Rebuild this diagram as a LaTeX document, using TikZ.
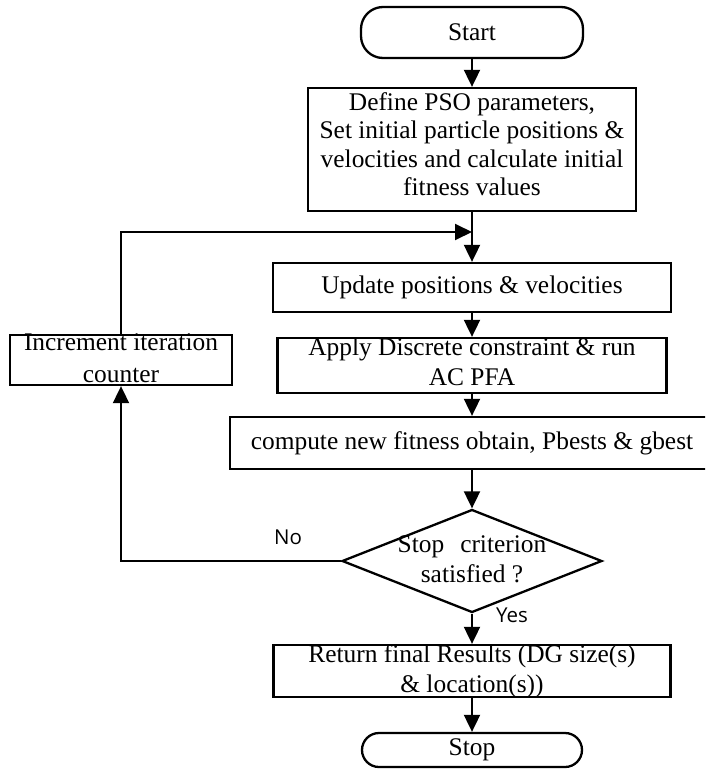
\documentclass[tikz,border=0pt]{standalone}
\usepackage{fontspec}
\setmainfont{Liberation Serif}
\newfontfamily\labelfont{Open Sans}
\usetikzlibrary{arrows.meta,shapes.geometric}
\begin{document}
\begin{tikzpicture}[x=1pt,y=-1pt,
  shapebox/.style={draw, line width=2.3pt, inner sep=0pt, fill=white},
  txt/.style={align=center, inner sep=0pt, font=\fontsize{25.4}{30}\selectfont},
  conn/.style={line width=1.9pt, -{Triangle[length=17pt,width=16pt]}},
  lbl/.style={inner sep=0pt, font=\labelfont\fontsize{20.5}{24}\selectfont}
]
\useasboundingbox (0,0) rectangle (705,769);
\fill[white] (0,0) rectangle (705,769);
\begin{scope}
\clip (0,0) rectangle (705,769);

% shapes
\node[shapebox, rounded corners=22pt, minimum width=222pt, minimum height=51pt, txt] (start) at (472,32.5) {Start};
\node[shapebox, minimum width=328pt, minimum height=123pt] (define) at (472,149.5) {};
\node[txt, font=\fontsize{25.4}{28.5}\selectfont] (definetext) at (472,144) {Define PSO parameters,\\Set initial particle positions \&\\velocities and calculate initial\\fitness values};
\node[shapebox, minimum width=398pt, minimum height=49pt, txt] (update) at (472,287.5) {Update positions \& velocities};
\node[shapebox, minimum width=389pt, minimum height=55pt] (apply) at (472,365.5) {};
\node[txt] (applytext) at (472,362) {Apply Discrete constraint \& run\\AC PFA};
\node[shapebox, minimum width=484pt, minimum height=52pt, txt] (compute) at (472,443) {compute new fitness obtain, Pbests \& gbest};
\node[shapebox, diamond, minimum width=260pt, minimum height=103pt] (dec) at (472,561) {};
\node[txt] (dectext) at (472,559.5) {Stop\hspace{16pt}criterion\\satisfied ?};
\node[shapebox, minimum width=222pt, minimum height=50pt] (inc) at (121,360) {};
\node[txt, font=\fontsize{25.4}{32}\selectfont] (inctext) at (121,358.5) {Increment iteration\\counter};
\node[shapebox, minimum width=397pt, minimum height=52pt] (ret) at (472,671) {};
\node[txt] (rettext) at (472,671.5) {Return final Results (DG size(s)\\\& location(s))};
\node[shapebox, rounded corners=17pt, minimum width=220pt, minimum height=34pt, txt] (stop) at (472,750) {Stop};

\coordinate (join) at (472,232);

% connectors
\draw[conn] (start) -- (define);
\draw[conn] (define) -- (update);
\draw[conn] (update) -- (apply);
\draw[conn] (apply) -- (compute);
\draw[conn] (compute) -- (dec);
\draw[conn] (dec) -- (ret);
\draw[conn] (ret) -- (stop);
\draw[conn] (inc.north) |- (join);
\draw[conn] (dec.west) -| (inc.south);

% labels
\node[lbl] (nolbl) at (288,537) {No};
\node[lbl] (yeslbl) at (512,615) {Yes};
\end{scope}
\end{tikzpicture}
\end{document}
